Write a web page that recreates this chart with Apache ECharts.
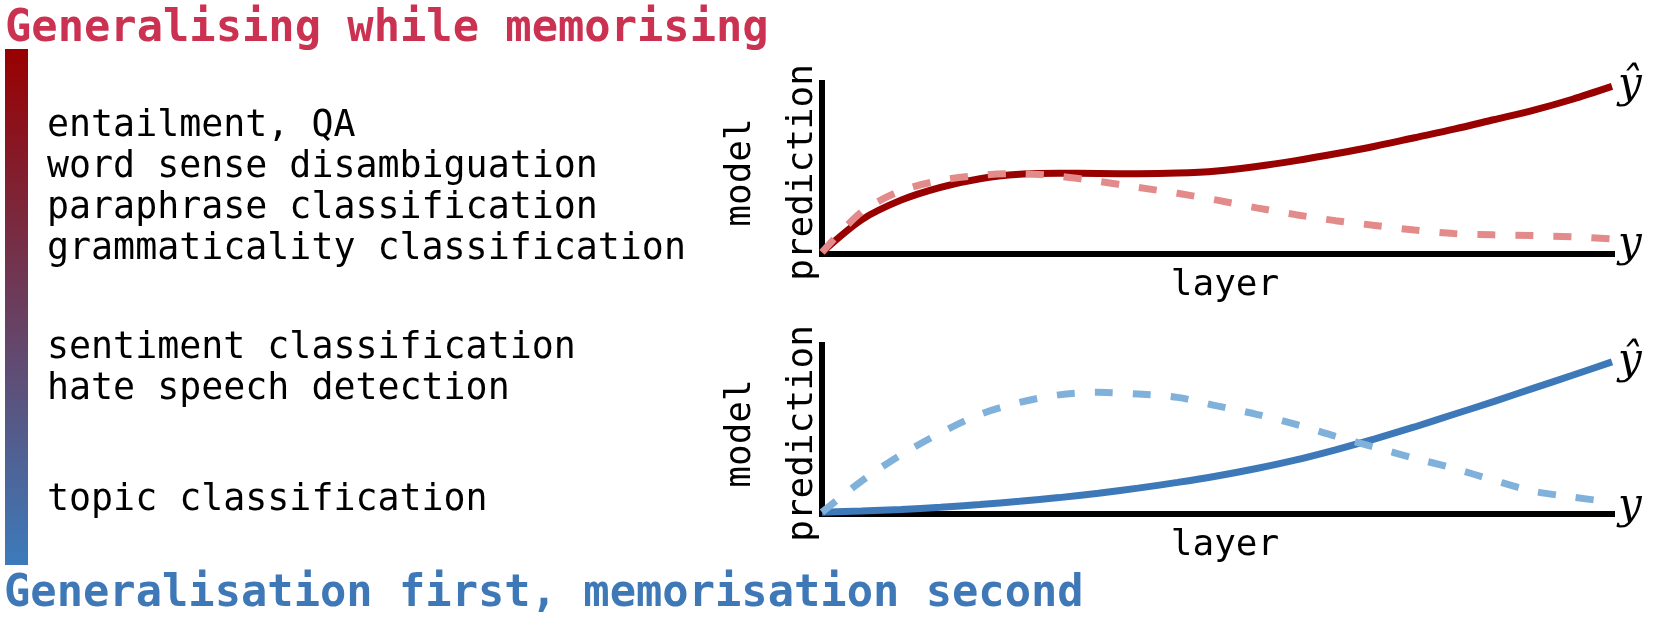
<!DOCTYPE html>
<html>
<head>
<meta charset="utf-8">
<script src="https://cdn.jsdelivr.net/npm/echarts@6/dist/echarts.min.js"></script>
<style>
  html, body { margin: 0; padding: 0; background: #ffffff; }
  #chart { width: 1661px; height: 623px; }
</style>
</head>
<body>
<div id="chart"></div>
<script>
// ---------- data ----------
const titleTop = 'Generalising while memorising';
const titleBottom = 'Generalisation first, memorisation second';
const tasksGroupA = ['entailment, QA', 'word sense disambiguation', 'paraphrase classification', 'grammaticality classification'];
const tasksGroupB = ['sentiment classification', 'hate speech detection'];
const tasksGroupC = ['topic classification'];

const layers    = [0, 5, 10, 15, 20, 25, 30, 35, 40, 45, 50, 55, 60, 65, 70, 75, 80, 85, 90, 95, 100];
const topModel  = [1, 20, 31.5, 39, 44, 46.6, 47.2, 47.1, 46.9, 47.3, 48.6, 51.2, 54.6, 58.6, 63, 68, 73, 78.5, 84, 90.5, 98];
const topLabel  = [1, 24.5, 37, 43, 46, 47, 45.5, 42.5, 39, 35.5, 31.5, 27, 23, 19.5, 16.7, 14, 12, 11.2, 10.8, 10, 8.8];
const botModel  = [1, 1.8, 2.7, 4, 5.6, 7.5, 9.7, 12.3, 15.3, 18.7, 22.5, 26.9, 32, 38, 44.5, 51.5, 59, 66.5, 74.3, 82.1, 90];
const botLabel  = [1, 19.5, 35, 48, 59, 66, 70.5, 72, 71, 69, 64, 59, 53, 46, 39.5, 33, 27, 20, 13.5, 10, 7];

const xName = 'layer';
const yName = 'model\nprediction';
const hatLabel = 'ŷ';
const plainLabel = 'y';

// ---------- styling ----------
const MONO = '"DejaVu Sans Mono", monospace';
const RED_TITLE = '#cb3150';
const BLUE_TITLE = '#3f78b7';

function pairs(xs, ys) { return xs.map((x, i) => [x, ys[i]]); }

function lineSeries(idx, data, color, dashed, label, labelOffsetY) {
  return {
    type: 'line',
    xAxisIndex: idx, yAxisIndex: idx,
    data: data,
    smooth: 0.3,
    showSymbol: false,
    symbol: 'none',
    silent: true,
    lineStyle: { color: color, width: 7, type: dashed ? [18, 20] : 'solid', cap: 'butt' },
    z: dashed ? 3 : 2,
    endLabel: {
      show: true,
      formatter: label,
      fontFamily: '"DejaVu Serif", serif',
      fontStyle: 'italic',
      fontSize: 42,
      color: '#000',
      distance: 6,
      offset: [0, labelOffsetY]
    }
  };
}

function axisPair(idx) {
  const common = {
    axisTick: { show: false },
    axisLabel: { show: false },
    splitLine: { show: false },
    axisLine: { show: true, onZero: false, lineStyle: { color: '#000', width: 6, cap: 'square' } }
  };
  return {
    x: Object.assign({
      type: 'value', gridIndex: idx, min: 0, max: 100,
      name: xName, nameLocation: 'middle', nameGap: 14,
      nameTextStyle: { fontFamily: MONO, fontSize: 36, color: '#000', lineHeight: 36, padding: [0, 0, 0, 16] }
    }, common),
    y: Object.assign({
      type: 'value', gridIndex: idx, min: 0, max: 100,
      name: yName, nameLocation: 'middle', nameGap: -12, nameRotate: 90,
      nameTextStyle: { fontFamily: MONO, fontSize: 36, color: '#000', lineHeight: 62, padding: [0, 8, 0, 0] }
    }, common)
  };
}

const a0 = axisPair(0), a1 = axisPair(1);

// text layout helpers
const listFont = '38px ' + MONO;
const listLeft = 47;
const lineStep = 41;
function listTexts(lines, firstCenterY) {
  return lines.map((t, i) => ({
    type: 'text', x: listLeft, y: firstCenterY + i * lineStep, scaleX: 0.963, silent: true,
    style: { text: t, font: listFont, fill: '#000', verticalAlign: 'middle', align: 'left' }
  }));
}

const chart = echarts.init(document.getElementById('chart'), null, { renderer: 'canvas' });
chart.setOption({
  animation: false,
  backgroundColor: '#ffffff',
  grid: [
    { left: 822, right: 49, top: 83, height: 171 },
    { left: 822, right: 49, top: 345, height: 169 }
  ],
  xAxis: [a0.x, a1.x],
  yAxis: [a0.y, a1.y],
  series: [
    lineSeries(0, pairs(layers, topModel), '#990000', false, hatLabel, 0),
    lineSeries(0, pairs(layers, topLabel), '#e38a8a', true, plainLabel, 6),
    lineSeries(1, pairs(layers, botModel), '#3d79b9', false, hatLabel, 0),
    lineSeries(1, pairs(layers, botLabel), '#80b1db', true, plainLabel, 5)
  ],
  graphic: [
    {
      type: 'text', x: 5, y: 29, scaleX: 0.972, silent: true,
      style: { text: titleTop, font: 'bold 45px ' + MONO, fill: RED_TITLE, verticalAlign: 'middle', align: 'left' }
    },
    {
      type: 'text', x: 4, y: 594, scaleX: 0.972, silent: true,
      style: { text: titleBottom, font: 'bold 45px ' + MONO, fill: BLUE_TITLE, verticalAlign: 'middle', align: 'left' }
    },
    {
      type: 'rect', silent: true,
      shape: { x: 5, y: 49, width: 23, height: 516 },
      style: {
        fill: new echarts.graphic.LinearGradient(0, 0, 0, 1, [
          { offset: 0, color: '#990000' },
          { offset: 1, color: '#3c7bbb' }
        ])
      }
    }
  ].concat(listTexts(tasksGroupA, 126.5))
   .concat(listTexts(tasksGroupB, 348))
   .concat(listTexts(tasksGroupC, 500))
});
</script>
</body>
</html>
